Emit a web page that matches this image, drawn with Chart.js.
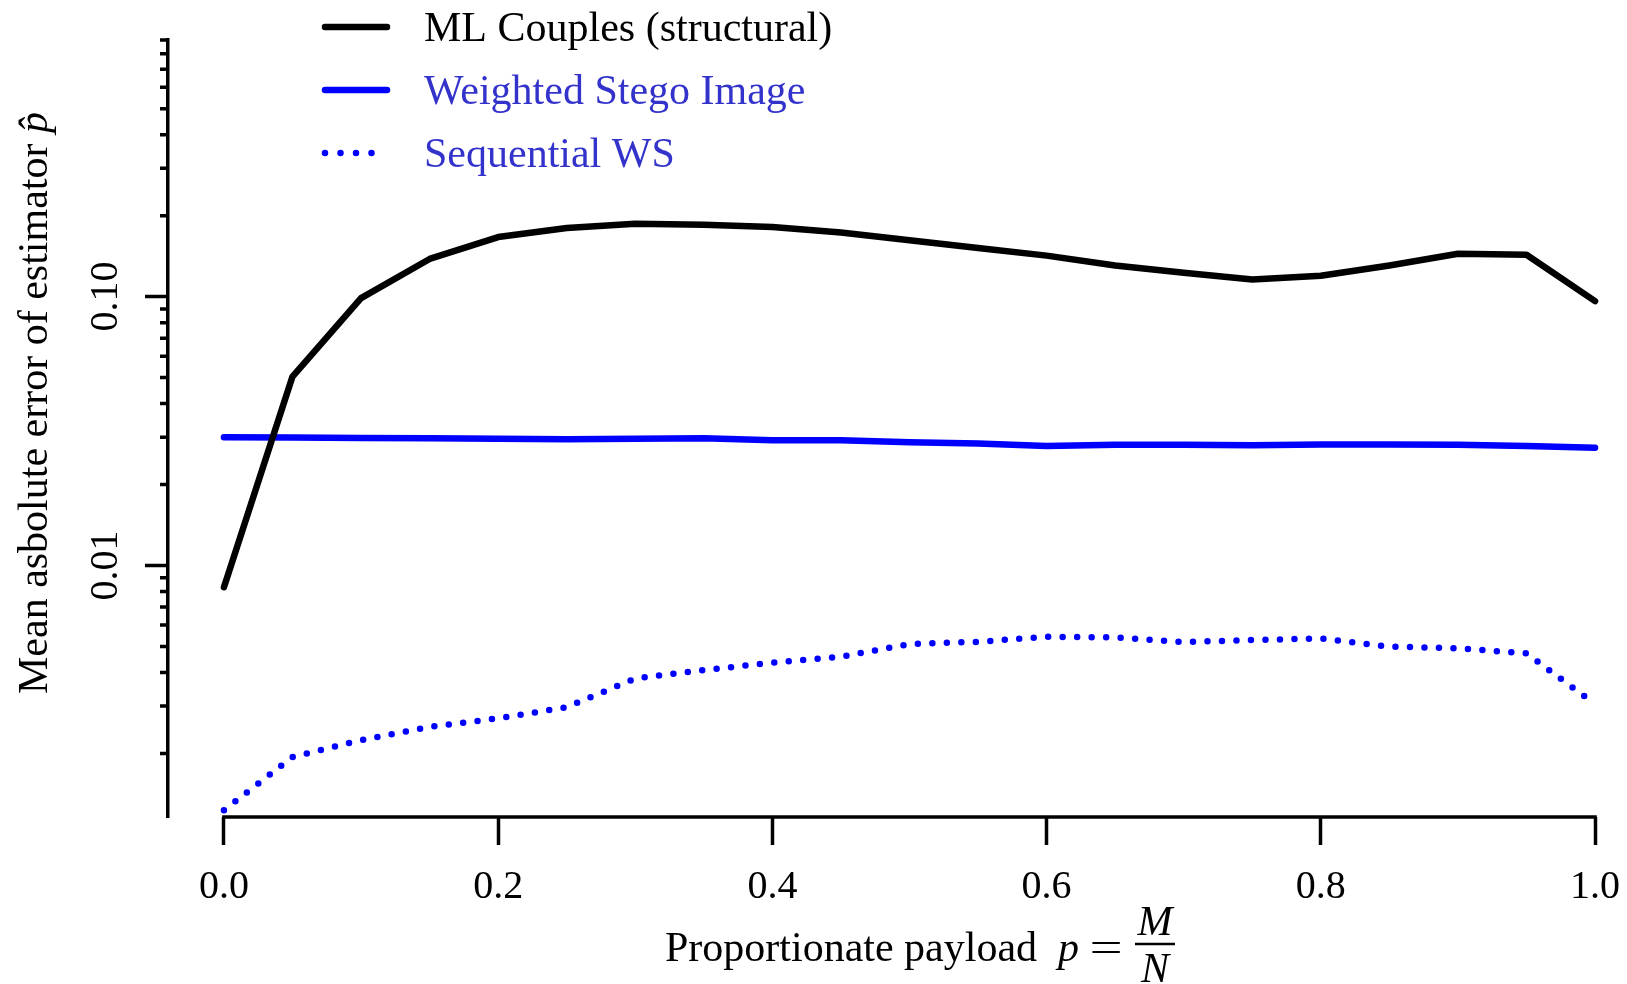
<!DOCTYPE html>
<html>
<head>
<meta charset="utf-8">
<title>Mean absolute error of estimators</title>
<script src="https://cdn.jsdelivr.net/npm/chart.js@4.4.1/dist/chart.umd.min.js"></script>
<style>
  html, body { margin: 0; padding: 0; background: #fff; }
  #wrap { width: 1627px; height: 984px; position: relative; }
</style>
</head>
<body>
<div id="wrap"><canvas id="errChart"></canvas></div>
<script>
// proportionate payload p = M/N
const payload = [0, 0.05, 0.1, 0.15, 0.2, 0.25, 0.3, 0.35, 0.4, 0.45, 0.5,
                 0.55, 0.6, 0.65, 0.7, 0.75, 0.8, 0.85, 0.9, 0.95, 1.0];

// mean absolute error of each estimator
const mlCouples = [0.0083, 0.0504, 0.0987, 0.138, 0.1665, 0.18, 0.1866, 0.185, 0.1814, 0.1732, 0.162,
                   0.1515, 0.142, 0.1305, 0.1226, 0.1158, 0.1195, 0.1305, 0.1443, 0.1431, 0.0962];
const weightedStego = [0.0300, 0.0299, 0.0298, 0.0297, 0.0296, 0.0295, 0.0296, 0.0297, 0.0292, 0.0292, 0.0287,
                       0.0284, 0.0278, 0.0281, 0.0281, 0.0280, 0.0282, 0.0282, 0.0281, 0.0278, 0.0274];
const sequentialWS = [0.00123, 0.00194, 0.00224, 0.00251, 0.0027, 0.00297, 0.0038, 0.00408, 0.00435, 0.00458, 0.0051,
                      0.0052, 0.00543, 0.0054, 0.00519, 0.00528, 0.00535, 0.00499, 0.00492, 0.00471, 0.00305];

const seriesNames = ['ML Couples (structural)', 'Weighted Stego Image', 'Sequential WS'];
const legendTextColors = ['#000000', '#3333cc', '#3333cc'];

// axis ticks
const xTicks = [0, 0.2, 0.4, 0.6, 0.8, 1.0];
const yMajorTicks = [0.01, 0.1];
const yMajorLabels = ['0.01', '0.10'];
const yMinorTicks = [0.002, 0.003, 0.004, 0.005, 0.006, 0.007, 0.008, 0.009,
                     0.02, 0.03, 0.04, 0.05, 0.06, 0.07, 0.08, 0.09,
                     0.2, 0.3, 0.4, 0.5, 0.6, 0.7, 0.8, 0.9];

const SERIF = '"Liberation Serif", "Times New Roman", serif';

function toPoints(values) {
    return payload.map((p, i) => ({ x: p, y: values[i] }));
}

// axes in R style, legend and titles
const paperDecor = {
    id: 'paperDecor',
    afterDraw(chart) {
        const ctx = chart.ctx;
        const xs = chart.scales.x;
        const ys = chart.scales.y;
        const area = chart.chartArea;

        ctx.save();
        ctx.strokeStyle = '#000';
        ctx.lineWidth = 3.5;

        // x axis line only between first and last tick
        ctx.beginPath();
        ctx.moveTo(xs.getPixelForValue(xTicks[0]) - 1.75, area.bottom);
        ctx.lineTo(xs.getPixelForValue(xTicks[xTicks.length - 1]) + 1.75, area.bottom);
        ctx.stroke();

        // y ticks, long for decades
        ctx.beginPath();
        yMinorTicks.forEach(v => {
            const py = ys.getPixelForValue(v);
            ctx.moveTo(area.left, py);
            ctx.lineTo(area.left - 8, py);
        });
        yMajorTicks.forEach(v => {
            const py = ys.getPixelForValue(v);
            ctx.moveTo(area.left, py);
            ctx.lineTo(area.left - 23, py);
        });
        ctx.stroke();

        // y tick labels, rotated
        ctx.fillStyle = '#000';
        ctx.font = '40px ' + SERIF;
        ctx.textAlign = 'center';
        ctx.textBaseline = 'alphabetic';
        yMajorTicks.forEach((v, i) => {
            ctx.save();
            ctx.translate(area.left - 51, ys.getPixelForValue(v));
            ctx.rotate(-Math.PI / 2);
            ctx.fillText(yMajorLabels[i], 0, 0);
            ctx.restore();
        });

        // y title
        ctx.save();
        ctx.translate(47, 694);
        ctx.rotate(-Math.PI / 2);
        ctx.textAlign = 'left';
        ctx.font = '42px ' + SERIF;
        const yTitle = 'Mean asbolute error of estimator ';
        ctx.fillText(yTitle, 0, 0);
        const off = ctx.measureText(yTitle).width;
        ctx.font = 'italic 42px ' + SERIF;
        ctx.fillText('p\u0302', off, 0);
        ctx.restore();

        // x title: Proportionate payload p = M / N
        ctx.textAlign = 'left';
        ctx.font = '42px ' + SERIF;
        ctx.fillText('Proportionate payload', 665, 961);
        ctx.font = 'italic 42px ' + SERIF;
        ctx.fillText('p', 1058, 961);
        ctx.save();
        ctx.translate(1106, 961);
        ctx.scale(1.4, 1);
        ctx.textAlign = 'center';
        ctx.font = '42px ' + SERIF;
        ctx.fillText('=', 0, 0);
        ctx.restore();
        ctx.textAlign = 'center';
        ctx.font = 'italic 42px ' + SERIF;
        ctx.fillText('M', 1155, 935);
        ctx.fillText('N', 1155, 982);
        ctx.lineWidth = 2.5;
        ctx.beginPath();
        ctx.moveTo(1135, 944);
        ctx.lineTo(1175, 944);
        ctx.stroke();

        // legend
        const legendYs = [27, 90, 153];
        chart.data.datasets.forEach((ds, i) => {
            const ly = legendYs[i];
            ctx.save();
            ctx.strokeStyle = ds.borderColor;
            ctx.lineWidth = ds.borderWidth;
            ctx.lineCap = 'round';
            ctx.setLineDash(ds.borderDash ? [0, 15.5] : []);
            ctx.beginPath();
            ctx.moveTo(325, ly);
            ctx.lineTo(387, ly);
            ctx.stroke();
            ctx.restore();
            ctx.fillStyle = legendTextColors[i];
            ctx.textAlign = 'left';
            ctx.font = '42px ' + SERIF;
            ctx.fillText(ds.label, 424, ly + 14);
        });

        ctx.restore();
    }
};

const lineStyle = {
    borderWidth: 6.5,
    borderCapStyle: 'round',
    borderJoinStyle: 'round',
    pointRadius: 0,
    pointHoverRadius: 0,
    tension: 0,
    fill: false
};

new Chart(document.getElementById('errChart'), {
    type: 'line',
    data: {
        datasets: [
            Object.assign({ label: seriesNames[0], data: toPoints(mlCouples), borderColor: '#000000' }, lineStyle),
            Object.assign({ label: seriesNames[1], data: toPoints(weightedStego), borderColor: '#0000ff' }, lineStyle),
            Object.assign({ label: seriesNames[2], data: toPoints(sequentialWS), borderColor: '#0000ff', borderDash: [0, 14.5] }, lineStyle)
        ]
    },
    options: {
        responsive: true,
        maintainAspectRatio: false,
        animation: false,
        layout: { padding: { top: 40, right: 7, bottom: 0, left: 0 } },
        plugins: {
            legend: { display: false },
            tooltip: { enabled: false }
        },
        scales: {
            x: {
                type: 'linear',
                min: -0.0408,
                max: 1.0182,
                afterBuildTicks: (s) => { s.ticks = xTicks.map(v => ({ value: v })); },
                afterFit: (s) => { s.height = 167; s.paddingLeft = 0; s.paddingRight = 0; },
                grid: { drawOnChartArea: false, drawTicks: true, tickLength: 28, tickWidth: 3.5, tickColor: '#000' },
                border: { display: false },
                ticks: {
                    font: { family: SERIF, size: 40 },
                    color: '#000',
                    padding: 18,
                    maxRotation: 0,
                    autoSkip: false,
                    callback: (v) => Number(v).toFixed(1)
                }
            },
            y: {
                type: 'logarithmic',
                min: 0.00116,
                max: 0.9,
                afterBuildTicks: (s) => { s.ticks = yMajorTicks.map(v => ({ value: v })); },
                afterFit: (s) => { s.width = 168; s.paddingTop = 0; s.paddingBottom = 0; },
                grid: { display: false },
                border: { display: true, color: '#000', width: 3.5 },
                ticks: { display: false }
            }
        }
    },
    plugins: [paperDecor]
});
</script>
</body>
</html>
